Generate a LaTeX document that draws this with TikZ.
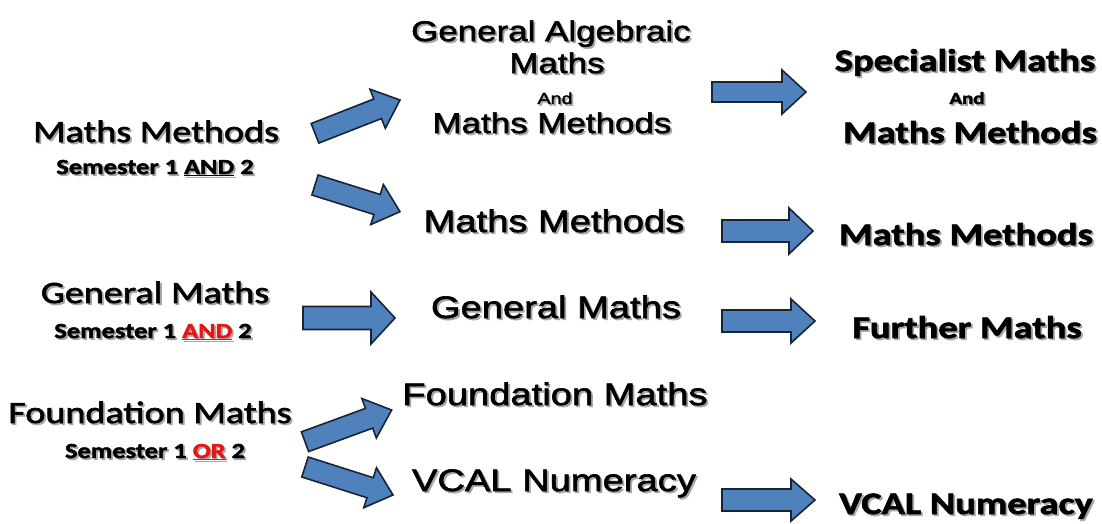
\documentclass[tikz,border=0pt]{standalone}
\usepackage{fontspec}
\newfontfamily\calfont[FakeStretch=1.23,FakeBold=2]{Carlito}
\newfontfamily\arfont[FakeStretch=1.23,FakeBold=2]{Liberation Sans}
\usetikzlibrary{calc}
\definecolor{arrowblue}{RGB}{79,129,189}
\definecolor{arrowedge}{RGB}{25,35,50}
\definecolor{hlred}{RGB}{228,22,22}
\newcommand\redword[1]{\textcolor{hlred}{\underline{#1}}}
\newcommand\shtext[1]{\makebox[0pt][l]{\hspace{1.8pt}\raisebox{-1.8pt}{\colorlet{hlred}{black!35}\color{black!35}#1}}#1}
\newcommand\drawblock[4]{%
  \path let \p1=(#1), \p2=(#2) in
    \pgfextra{\pgfmathsetmacro\BAang{atan2(\y2-\y1,\x2-\x1)}\xdef\BAang{\BAang}%
              \pgfmathsetmacro\BAlen{veclen(\x2-\x1,\y2-\y1)}\xdef\BAlen{\BAlen}};
  \begin{scope}[shift={(#1)}, rotate=\BAang]
    \draw[blockarrow] (0pt,-#3pt) -- ({\BAlen pt-24pt},-#3pt) -- ({\BAlen pt-24pt},-#4pt)
      -- (\BAlen pt,0pt) -- ({\BAlen pt-24pt},#4pt) -- ({\BAlen pt-24pt},#3pt) -- (0pt,#3pt) -- cycle;
  \end{scope}}
\tikzset{
  lft/.style={anchor=base, inner sep=0pt, font=\calfont\fontsize{31}{31}\selectfont},
  lsub/.style={anchor=base, inner sep=0pt, font=\calfont\bfseries\fontsize{21.5}{21.5}\selectfont},
  mid/.style={anchor=base, inner sep=0pt, font=\arfont\fontsize{31}{31}\selectfont},
  midsm/.style={anchor=base, inner sep=0pt, font=\arfont\fontsize{28.4}{28.4}\selectfont},
  midand/.style={anchor=base, inner sep=0pt, font=\arfont\fontsize{16}{16}\selectfont},
  rgt/.style={anchor=base, inner sep=0pt, font=\calfont\bfseries\fontsize{31.3}{31.3}\selectfont},
  rand/.style={anchor=base, inner sep=0pt, font=\calfont\bfseries\fontsize{17}{17}\selectfont},
  blockarrow/.style={fill=arrowblue, draw=arrowedge, line width=1.6pt, line join=miter},
}
\begin{document}
\begin{tikzpicture}[x=1pt,y=-1pt]
\useasboundingbox[fill=white] (0,0) rectangle (1102,523);
% left column
\node[lft]  (lmm)  at (156,142) {\shtext{Maths Methods}};
\node[lsub] (lmms) at (155,174) {\shtext{Semester 1 \underline{AND} 2}};
\node[lft]  (lgm)  at (155,303) {\shtext{General Maths}};
\node[lsub] (lgms) at (153,338) {\shtext{Semester 1 \redword{AND} 2}};
\node[lft]  (lfm)  at (150,423) {\shtext{Foundation Maths}};
\node[lsub] (lfms) at (155,458) {\shtext{Semester 1 \redword{OR} 2}};
% middle column
\node[midsm]  (mga)    at (551,41)  {\shtext{General Algebraic}};
\node[midsm]  (mgm)    at (557,73)  {\shtext{Maths}};
\node[midand] (mand)   at (555,104) {\shtext{And}};
\node[midsm]  (mmm1)   at (552,133) {\shtext{Maths Methods}};
\node[mid]    (mmm2)   at (554,232) {\shtext{Maths Methods}};
\node[mid]    (mgen)   at (556,318) {\shtext{General Maths}};
\node[mid]    (mfound) at (555,405) {\shtext{Foundation Maths}};
\node[mid]    (mvcal)  at (554,491) {\shtext{VCAL Numeracy}};
% right column
\node[rgt]  (rsm)   at (965,71)  {\shtext{Specialist Maths}};
\node[rand] (rand)  at (967,104) {\shtext{And}};
\node[rgt]  (rmm1)  at (970,143) {\shtext{Maths Methods}};
\node[rgt]  (rmm2)  at (966,245) {\shtext{Maths Methods}};
\node[rgt]  (rfm)   at (967,338) {\shtext{Further Maths}};
\node[rgt]  (rvcal) at (966,514) {\shtext{VCAL Numeracy}};
% arrow end points
\coordinate (fT) at (315,133.3); \coordinate (fH) at (400,100);
\coordinate (gT) at (315,185);   \coordinate (gH) at (400,211.7);
\coordinate (hT) at (305,441.7); \coordinate (hH) at (391.7,410);
\coordinate (iT) at (305,467);   \coordinate (iH) at (393,495);
\coordinate (eT) at (303,318);   \coordinate (eH) at (395,318);
\coordinate (aT) at (712,92);    \coordinate (aH) at (806,92);
\coordinate (bT) at (722,231);   \coordinate (bH) at (813,231);
\coordinate (cT) at (722,321);   \coordinate (cH) at (815,321);
\coordinate (dT) at (722,500);   \coordinate (dH) at (815,500);
\drawblock{fT}{fH}{10.5}{21}
\drawblock{gT}{gH}{10.5}{21}
\drawblock{hT}{hH}{10.5}{21}
\drawblock{iT}{iH}{10.5}{21}
\drawblock{eT}{eH}{11.5}{26}
\drawblock{aT}{aH}{10}{22}
\drawblock{bT}{bH}{11}{23}
\drawblock{cT}{cH}{11}{22}
\drawblock{dT}{dH}{11}{21}
\end{tikzpicture}
\end{document}
